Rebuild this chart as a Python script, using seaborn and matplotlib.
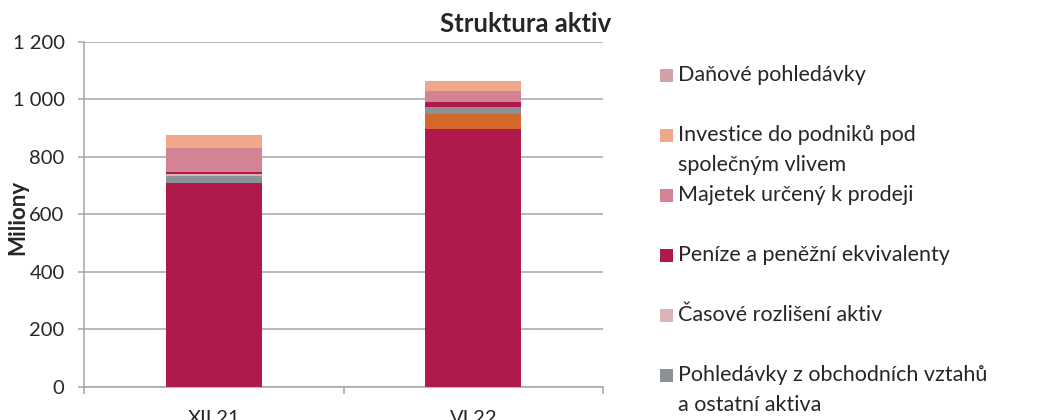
import pandas as pd
import matplotlib.pyplot as plt
import seaborn as sns
from matplotlib.patches import Rectangle
from matplotlib.ticker import FuncFormatter, FixedLocator

periods = ["XII.21", "VI.22"]

# stack order from the bottom up (values in millions)
series_names = [
    "Ostatní aktiva",
    "Dlouhodobý majetek",
    "Pohledávky z obchodních vztahů\na ostatní aktiva",
    "Časové rozlišení aktiv",
    "Peníze a peněžní ekvivalenty",
    "Majetek určený k prodeji",
    "Investice do podniků pod\nspolečným vlivem",
    "Daňové pohledávky",
]
base_values = [710, 898]
fixed_assets = [0, 49]
receivables = [24, 25]
accruals = [6, 2]
cash = [8, 17]
held_for_sale = [83, 37]
investments = [44, 36]
tax_receivables = [0, 0]

series_values = [base_values, fixed_assets, receivables, accruals,
                 cash, held_for_sale, investments, tax_receivables]
series_colors = ["#b01a4b", "#d2692b", "#8e9097", "#d9b3b8",
                 "#b01a4b", "#d48395", "#efa98a", "#d4a0a8"]

# legend shows the top of the stack first; the last two entries fall off the image
legend_count = 6

rows = []
for name, vals in zip(series_names, series_values):
    for p, v in zip(periods, vals):
        rows.append({"period": p, "series": name, "value": v})
df = pd.DataFrame(rows)
df["cum"] = df.groupby("period")["value"].cumsum()

sns.set_style("white")
plt.rcParams["font.family"] = ["Lato", "DejaVu Sans"]
text_color = "#262626"
grid_color = "#a6a6a6"

fig = plt.figure(figsize=(10.49, 4.2), dpi=100)
ax = fig.add_axes([0.0801, 0.0793, 0.4948, 0.8214])

# draw cumulative totals from the top series down so lower ones cover them
for name, color in reversed(list(zip(series_names, series_colors))):
    sub = df[df["series"] == name]
    sns.barplot(data=sub, x="period", y="cum", order=periods, color=color,
                saturation=1, width=0.37, linewidth=0, ax=ax, zorder=3)

ax.set_ylim(0, 1200)
ax.set_xlim(-0.5, 1.5)
ax.yaxis.set_major_locator(FixedLocator(range(0, 1201, 200)))
ax.yaxis.set_major_formatter(FuncFormatter(lambda v, _: f"{int(v):,}".replace(",", "\u00a0")))
ax.grid(axis="y", color=grid_color, linewidth=1.1, zorder=0)
ax.set_axisbelow(True)

for side in ["top", "right"]:
    ax.spines[side].set_visible(False)
for side in ["left", "bottom"]:
    ax.spines[side].set_color(grid_color)
    ax.spines[side].set_linewidth(1.1)

ax.set_xticks([0, 1])
ax.set_xticklabels(periods)
ax.set_xticks([-0.5, 0.5, 1.5], minor=True)
ax.tick_params(axis="x", which="major", length=0, pad=17, labelsize=14.5, labelcolor=text_color)
ax.tick_params(axis="x", which="minor", length=5, width=1.1, color=grid_color, direction="out")
ax.tick_params(axis="y", length=4, width=1.1, color=grid_color, direction="out",
               labelsize=14.5, labelcolor=text_color, pad=10)
ax.tick_params(left=True, bottom=True, which="both")

ax.set_xlabel("")
ax.set_ylabel("Miliony", fontsize=16, fontweight="bold", color=text_color)
ax.yaxis.set_label_coords(-0.108, 0.49)

fig.text(0.5014, 0.943, "Struktura aktiv", ha="center", va="center",
         fontsize=18.5, fontweight="bold", color=text_color)

# legend on the right, one slot per entry like the original
W, H = 1049, 420
legend_items = list(zip(series_names, series_colors))[::-1][:legend_count]
for i, (name, color) in enumerate(legend_items):
    yc = 75 + i * 60
    fig.add_artist(Rectangle((660 / W, 1 - (yc + 6.5) / H), 13 / W, 13 / H,
                             transform=fig.transFigure, facecolor=color, edgecolor="none"))
    fig.text(678 / W, 1 - (yc - 10) / H, name, ha="left", va="top",
             fontsize=15.5, color=text_color, linespacing=1.63)

plt.savefig("out.png", dpi=100)
